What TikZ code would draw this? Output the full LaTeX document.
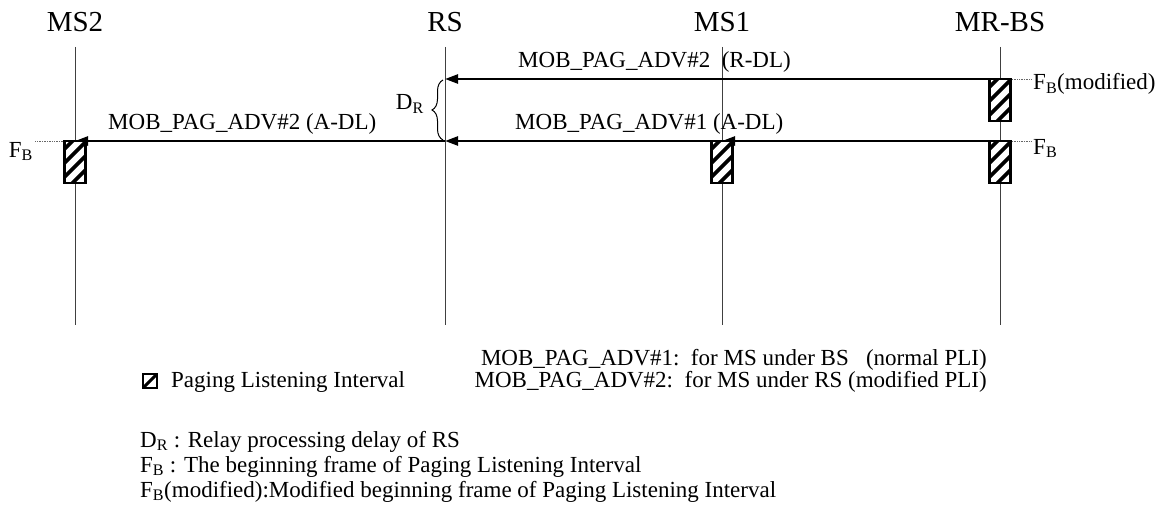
\documentclass[tikz,border=0pt]{standalone}
\usepackage{fontspec}
\setmainfont{Liberation Serif}
\usetikzlibrary{arrows.meta,decorations.pathreplacing}

\tikzset{
  life/.style={line width=1pt, black!75},
  msg/.style={line width=2.4pt, -{Triangle[length=13pt,width=9pt]}},
  hdr/.style={font=\fontsize{29}{33}\selectfont, anchor=base, inner sep=0},
  lbl/.style={font=\fontsize{23}{26}\selectfont, anchor=base west, inner sep=0},
  tick/.style={densely dotted, line width=0.7pt, black!60},
  pli/.pic={
    \fill[white] (-10.5,0) rectangle (10.5,42);
    \begin{scope}
      \clip (-10.5,0) rectangle (10.5,42);
      \foreach \k in {8,22,36,50}
        \draw[line width=3.6pt] (-12,\k+1.5) -- (12,\k-22.5);
    \end{scope}
    \draw[line width=2.4pt] (-10.5,0) rectangle (10.5,42);
  }
}

\begin{document}
\begin{tikzpicture}[x=1pt,y=-1pt]
\useasboundingbox (0,0) rectangle (1163,513);

% entities
\node[hdr] (MS2) at (75,32) {MS2};
\node[hdr] (RS) at (445,32) {RS};
\node[hdr] (MS1) at (722,32) {MS1};
\node[hdr] (BS) at (1000,32) {MR-BS};

\coordinate (ms2top) at (75,47);  \coordinate (ms2bot) at (75,325);
\coordinate (rstop) at (445,47);  \coordinate (rsbot) at (445,325);
\coordinate (ms1top) at (722,47); \coordinate (ms1bot) at (722,325);
\coordinate (bstop) at (1000,47); \coordinate (bsbot) at (1000,325);
\draw[life] (ms2top) -- (ms2bot);
\draw[life] (rstop) -- (rsbot);
\draw[life] (ms1top) -- (ms1bot);
\draw[life] (bstop) -- (bsbot);

% message end points
\coordinate (bsR) at (1000,79);  \coordinate (rsR) at (445,79);
\coordinate (bsA) at (1000,141); \coordinate (ms1A) at (722,141);
\coordinate (rsA) at (445,141);  \coordinate (ms2A) at (75,141);

\draw[msg] (bsR) -- (rsR);
\draw[msg] (bsA) -- (ms1A);
\draw[msg] (ms1A) -- (rsA);
\draw[msg] (rsA) -- (ms2A);

\node[lbl] (m1) at (518,68) {MOB\_PAG\_ADV\#2\ \ (R-DL)};
\node[lbl] (m2) at (515,130) {MOB\_PAG\_ADV\#1 (A-DL)};
\node[lbl] (m3) at (108,130) {MOB\_PAG\_ADV\#2 (A-DL)};

% paging listening intervals
\pic at (bsR) {pli};
\pic at (bsA) {pli};
\pic at (ms1A) {pli};
\pic at (ms2A) {pli};

% relay delay
\draw[line width=1pt, decorate, decoration={brace,amplitude=11pt}] (443,140) -- (443,80);
\node[lbl, anchor=base east] (DR) at (424,110) {D\textsubscript{R}};

% frame marks
\coordinate (fbm) at (1031,79);
\coordinate (fb1) at (1031,141);
\coordinate (fb2) at (35,141);
\draw[tick] (1012,79) -- (fbm);
\draw[tick] (1012,141) -- (fb1);
\draw[tick] (63,141) -- (fb2);
\node[lbl, anchor=north west] (FBm) at ([shift={(2,-6)}]fbm) {F\textsubscript{B}(modified)};
\node[lbl, anchor=north west] (FB1) at ([shift={(2,-2)}]fb1) {F\textsubscript{B}};
\node[lbl, anchor=north east] (FB2) at ([shift={(-2,1)}]fb2) {F\textsubscript{B}};

% legend
\begin{scope}
  \fill[white] (143,374) rectangle (157,388);
  \clip (143,374) rectangle (157,388);
  \draw[line width=3pt] (141,390) -- (159,372);
\end{scope}
\draw[line width=1.8pt] (143,374) rectangle (157,388);
\node[lbl] (key) at (171,388) {Paging Listening Interval};
\node[lbl, anchor=base east] (note1) at (987,365) {MOB\_PAG\_ADV\#1:\ \ for MS under BS\ \ \ (normal PLI)};
\node[lbl, anchor=base east] (note2) at (987,388) {MOB\_PAG\_ADV\#2:\ \ for MS under RS (modified PLI)};

\node[lbl] (def1) at (140,447) {D\textsubscript{R} : Relay processing delay of RS};
\node[lbl] (def2) at (140,472) {F\textsubscript{B} : The beginning frame of Paging Listening Interval};
\node[lbl] (def3) at (140,497) {F\textsubscript{B}(modified):Modified beginning frame of Paging Listening Interval};
\end{tikzpicture}
\end{document}
